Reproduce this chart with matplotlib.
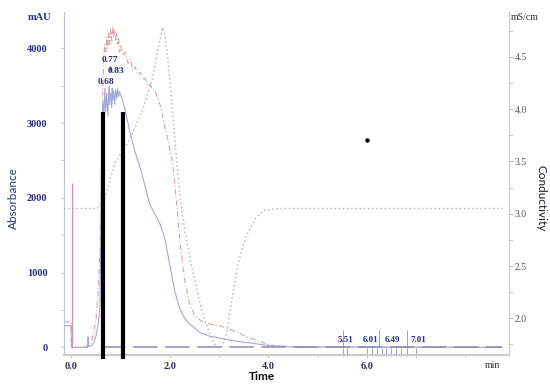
import matplotlib
matplotlib.use("Agg")
import matplotlib.pyplot as plt
from matplotlib.ticker import MultipleLocator, FixedLocator


# UV trace 1 (blue, solid), mAU
uv1_time = [-0.15, -0.005, 0.0, 0.33, 0.34, 0.35, 0.40, 0.45, 0.50, 0.55, 0.58,
            0.60, 0.62, 0.64, 0.66, 0.68, 0.70, 0.72, 0.74, 0.76, 0.77, 0.78,
            0.80, 0.82, 0.83, 0.84, 0.86, 0.88, 0.90, 0.92, 0.94, 0.96, 0.98,
            1.00, 1.02, 1.05, 1.10, 1.20, 1.30, 1.40, 1.50, 1.60, 1.70, 1.80,
            1.90, 2.00, 2.10, 2.20, 2.30, 2.40, 2.50, 2.60, 2.80, 3.00, 3.30,
            3.60, 4.00, 4.50, 8.75]
uv1_mau = [290, 290, 0, 0, 140, 10, 20, 60, 150, 330, 550,
           1500, 2950, 3300, 3050, 3470, 3150, 3400, 3100, 3420, 3490, 3250,
           3400, 3200, 3470, 3300, 3430, 3250, 3450, 3330, 3460, 3350, 3420,
           3380, 3340, 3280, 3150, 2850, 2600, 2400, 2150, 1900, 1780, 1650,
           1450, 1100, 750, 520, 390, 310, 260, 200, 150, 125, 85,
           60, 25, 5, 0]

# UV trace 2 (red, dash-dot), mAU
uv2_time = [-0.15, -0.005, 0.0, 0.27, 0.35, 0.40, 0.45, 0.50, 0.55, 0.58, 0.60,
            0.62, 0.64, 0.66, 0.68, 0.70, 0.72, 0.74, 0.76, 0.78, 0.80, 0.82,
            0.84, 0.86, 0.88, 0.90, 0.92, 0.94, 0.96, 0.98, 1.00, 1.05, 1.10,
            1.15, 1.20, 1.25, 1.30, 1.35, 1.40, 1.45, 1.50, 1.55, 1.60, 1.65,
            1.70, 1.75, 1.80, 1.85, 1.90, 2.00, 2.05, 2.10, 2.15, 2.20, 2.30,
            2.40, 2.50, 2.60, 2.70, 2.90, 3.10, 3.30, 3.50, 3.70, 3.90, 4.10,
            4.50, 8.75]
uv2_mau = [340, 340, 0, 0, 40, 80, 170, 380, 800, 1300, 1900,
           2700, 3500, 3900, 4050, 3950, 4150, 4000, 4200, 4050, 4250, 4100,
           4300, 4150, 4250, 4100, 4200, 4050, 4150, 3950, 4050, 3900, 3950,
           3800, 3850, 3700, 3750, 3650, 3680, 3580, 3600, 3500, 3520, 3450,
           3430, 3350, 3250, 3100, 2950, 2650, 2500, 2200, 1850, 1450, 900,
           580, 430, 370, 330, 300, 270, 220, 160, 110, 60, 25,
           5, 0]

# Conductivity (dotted), mS/cm
cond_time = [-0.15, 0.50, 0.60, 0.70, 0.80, 0.90, 1.00, 1.20, 1.45, 1.65, 1.75,
             1.85, 1.90, 1.95, 2.00, 2.05, 2.10, 2.15, 2.20, 2.26, 2.35, 2.45,
             2.55, 2.65, 2.75, 2.85, 2.95, 3.05, 3.15, 3.25, 3.37, 3.50, 3.63,
             3.75, 3.90, 4.20, 8.75]
cond_ms = [3.05, 3.05, 3.07, 3.17, 3.35, 3.50, 3.57, 3.72, 4.00, 4.30, 4.55,
           4.78, 4.72, 4.52, 4.28, 4.00, 3.72, 3.45, 3.20, 2.97, 2.72, 2.48,
           2.27, 2.08, 1.93, 1.80, 1.72, 1.73, 1.85, 2.15, 2.49, 2.72, 2.86,
           2.96, 3.03, 3.05, 3.05]

baseline_time = [0.60, 8.75]
baseline_mau = [0, 0]

inject_time = 0.01
inject_top = 2200

peak_labels = ["0.68", "0.77", "0.83"]
peak_label_x = [0.71, 0.79, 0.91]
peak_label_y = [3500, 3790, 3640]

pool_times = [0.64, 1.05]
pool_top = 3150
pool_bottom = -150

frac_marks = [5.51, 5.60, 6.01, 6.10, 6.20, 6.30, 6.40, 6.49, 6.60, 6.70, 6.82, 7.01]
frac_labels = ["5.51", "6.01", "6.49", "7.01"]
frac_label_x = [5.56, 6.07, 6.53, 7.05]
frac_div = [5.51, 6.25, 6.82]

stray_dot = (6.0, 2773)

x_ticks = [0, 2, 4, 6]
x_tick_labels = ["0.0", "2.0", "4.0", "6.0"]
uv_ticks = [0, 1000, 2000, 3000, 4000]
cond_ticks = [2.0, 2.5, 3.0, 3.5, 4.0, 4.5]

NAVY = "#2a2f7a"
SERIF = "Liberation Serif"
SANS = "Lato"

fig = plt.figure(figsize=(5.5, 3.86), dpi=100)
ax = fig.add_axes([64 / 550, 31 / 386, 445 / 550, 343 / 386])
ax2 = ax.twinx()

ax.set_xlim(-0.15, 8.89)
ax.set_ylim(-103, 4486)
ax2.set_ylim(1.649, 4.93)

# traces
ax2.plot(cond_time, cond_ms, color="#c2a8a8", lw=1.0, ls=(0, (1, 2)))
ax.plot(uv2_time, uv2_mau, color="#dca4a4", lw=0.8, ls=(0, (5, 2, 1, 2)))
ax.plot(uv1_time, uv1_mau, color="#a8a8d8", lw=0.8)
ax.plot(baseline_time, baseline_mau, color="#8a8abf", lw=1.1, ls=(0, (16, 5)))
ax.vlines(inject_time, 0, inject_top, color="#d890b0", lw=0.8)
ax.set_zorder(ax2.get_zorder() + 1)
ax.patch.set_visible(False)

# pooled fractions
for t in pool_times:
    ax.plot([t, t], [pool_bottom, pool_top], color="black", lw=3.0,
            solid_capstyle="butt", clip_on=False, zorder=5)

# peak labels
for lx, ly, lab in zip(peak_label_x, peak_label_y, peak_labels):
    ax.text(lx, ly, lab, color=NAVY, fontsize=6.8, fontweight="bold",
            family=SERIF, ha="center", va="bottom")
ax.vlines(0.79, 3700, 3770, color=NAVY, lw=0.6)

# fraction marks
ax.vlines(frac_marks, -110, -15, color="#7777aa", lw=0.5, clip_on=False)
ax.vlines(frac_div, 0, 230, color="#7777aa", lw=0.5)
for x, lab in zip(frac_label_x, frac_labels):
    ax.text(x, 40, lab, color=NAVY, fontsize=6.5, fontweight="bold",
            family=SERIF, ha="center", va="bottom")

ax.plot(*stray_dot, marker="o", ms=2.2, color="black", zorder=6)

# axes styling
for a in (ax, ax2):
    a.spines["top"].set_visible(False)
ax.spines["left"].set_color("#c0c0dc")
ax.spines["bottom"].set_color("#cccccc")
ax.spines["bottom"].set_linewidth(1.6)
ax.spines["right"].set_visible(False)
ax2.spines["left"].set_visible(False)
ax2.spines["bottom"].set_visible(False)
ax2.spines["right"].set_color("#cccccc")

ax.set_xticks(x_ticks)
ax.set_xticklabels(x_tick_labels)
ax.xaxis.set_minor_locator(MultipleLocator(1))
ax.set_yticks(uv_ticks)
ax.yaxis.set_minor_locator(MultipleLocator(500))
ax.tick_params(axis="x", which="both", length=2, color="#cccccc", pad=3,
               labelsize=7.5, labelcolor="#33335a")
ax.tick_params(axis="y", which="both", length=2, color="#c0c0dc", pad=10,
               labelsize=7.5, labelcolor=NAVY)
for lab in ax.get_xticklabels() + ax.get_yticklabels():
    lab.set_family(SERIF)
    lab.set_fontweight("bold")

ax2.set_yticks(cond_ticks)
ax2.yaxis.set_minor_locator(FixedLocator([1.75, 2.25, 2.75, 3.25, 3.75, 4.25, 4.75]))
ax2.tick_params(axis="y", which="both", length=3, color="#bbbbbb", pad=1,
                labelsize=7, labelcolor="#555555")
for lab in ax2.get_yticklabels():
    lab.set_family(SERIF)

# axis titles and units
fig.text(13 / 550, 1 - 198 / 386, "Absorbance", rotation=90, ha="center",
         va="center", fontsize=8.5, color="#203a80", family=SANS)
fig.text(541 / 550, 1 - 198 / 386, "Conductivity", rotation=270, ha="center",
         va="center", fontsize=8.5, color="#1a1a30", family=SANS)
fig.text(262 / 550, 1 - 376 / 386, "Time", ha="center", va="center",
         fontsize=8.5, fontweight="bold", color="#111111", family=SANS)
fig.text(39 / 550, 1 - 18 / 386, "mAU", ha="center", va="center",
         fontsize=7.5, fontweight="bold", color=NAVY, family=SERIF)
fig.text(525 / 550, 1 - 18 / 386, "mS/cm", ha="center", va="center",
         fontsize=7, color="#333333", family=SERIF)
fig.text(492 / 550, 1 - 366 / 386, "min", ha="center", va="center",
         fontsize=7, color="#333333", family=SERIF)

fig.savefig("out.png", dpi=100)
